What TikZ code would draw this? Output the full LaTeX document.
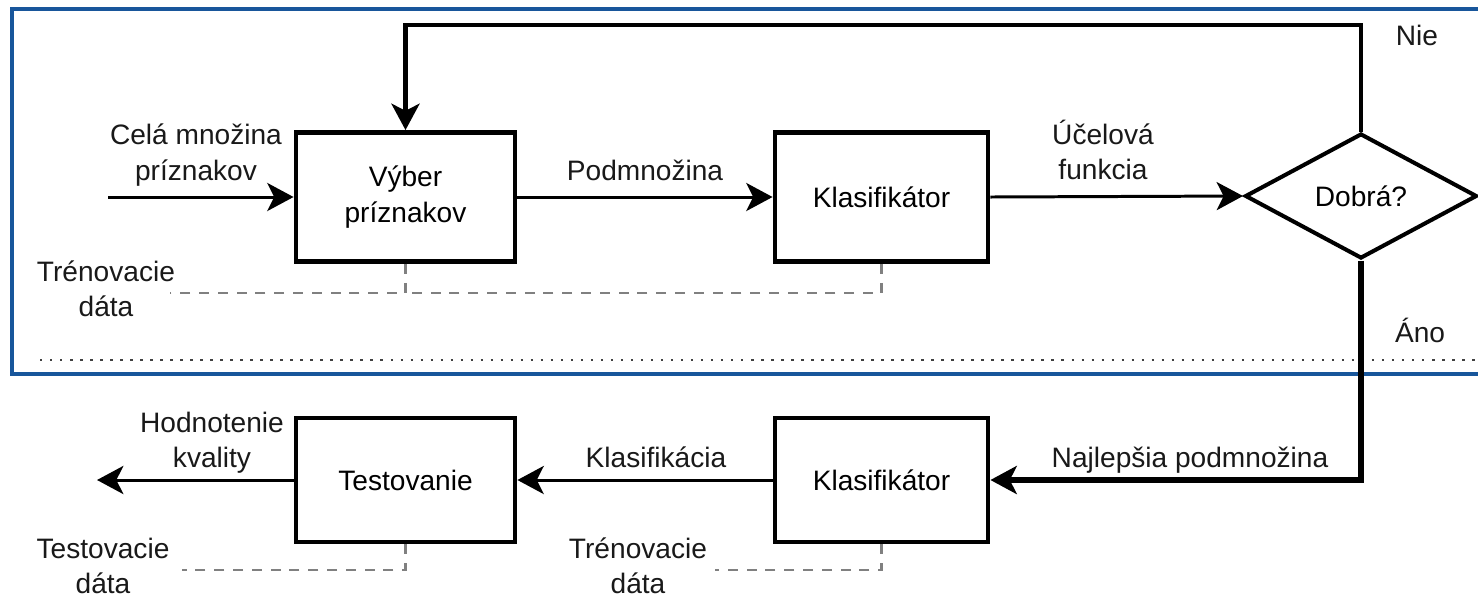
\documentclass[tikz,border=0pt]{standalone}
\usepackage{fontspec}
\setmainfont{Liberation Sans}
\usetikzlibrary{arrows.meta,shapes.geometric}

\definecolor{frameblue}{RGB}{24,86,155}

\begin{document}
\begin{tikzpicture}[
    x=0.02cm, y=-0.02cm,
    font=\fontsize{16}{20}\selectfont,
    block/.style={draw, line width=2.8pt, minimum width=4.26cm,
                  minimum height=2.58cm, inner sep=0pt, align=center},
    decision/.style={draw, diamond, line width=2.3pt, minimum width=4.64cm,
                     minimum height=2.5cm, inner sep=0pt},
    flow/.style={line width=1.7pt, -{Stealth[length=15pt, width=16pt, inset=4pt]}},
    loopline/.style={flow, line width=2.3pt},
    best/.style={flow, line width=3pt},
    traindata/.style={black!50, line width=1.2pt, dash pattern=on 5.7pt off 5pt},
    split/.style={black!75, line width=1.4pt, dash pattern=on 1.4pt off 4.3pt},
    frame/.style={frameblue, line width=2.3pt},
    lbl/.style={align=center, inner sep=0pt, text=black!90}
]

% ---------- frame ----------
\useasboundingbox (0,0) rectangle (1478,600);
\clip (0,0) rectangle (1478,600);
\draw[frame] (12,9) rectangle (1500,374);
\draw[split] (40,360) -- (1478,360);

% ---------- blocks ----------
\node[block, minimum width=4.38cm] (vyber) at (405.5,197) {Výber\\príznakov};
\node[block] (klas) at (881.5,197) {Klasifikátor};
\node[decision] (dobra) at (1361,196) {Dobrá?};
\node[block, minimum width=4.38cm, minimum height=2.48cm] (test) at (405.5,480) {Testovanie};
\node[block, minimum height=2.48cm] (klasb) at (881.5,480) {Klasifikátor};

% ---------- labels ----------
\node[lbl] (vstup) at (196,155) {Celá množina\\príznakov};
\node[lbl] (tren1) at (106,289) {Trénovacie\\dáta};
\node[lbl] (podm) at (645,170) {Podmnožina};
\node[lbl] (ucel) at (1103,150) {Účelová\\funkcia};
\node[lbl] (nie) at (1417,35) {Nie};
\node[lbl] (ano) at (1420,330) {Áno};
\node[lbl] (hodn) at (212,443) {Hodnotenie\\kvality};
\node[lbl] (klasif) at (656,457) {Klasifikácia};
\node[lbl] (najl) at (1190,460) {Najlepšia podmnožina};
\node[lbl] (testd) at (103,566) {Testovacie\\dáta};
\node[lbl] (tren2) at (638,566) {Trénovacie\\dáta};

% ---------- free ends ----------
\coordinate (in) at (108,197);
\coordinate (out) at (97,480);
\coordinate (loopR) at (1361,25);
\coordinate (loopL) at (405.5,25);
\coordinate (d1) at (170,293);
\coordinate (d2) at (182,570);
\coordinate (d3) at (715,570);

% ---------- selection loop ----------
\draw[flow] (in) -- (vyber.west);
\draw[flow] (vyber.east) -- (klas.west);
\draw[flow] (klas.east) -- (dobra.west);
\draw[loopline] (dobra.north) -- (loopR) -- (loopL) -- (vyber.north);

% ---------- evaluation ----------
\draw[best] (dobra.south) |- (klasb.east);
\draw[flow] (klasb.west) -- (test.west -| test.east);
\draw[flow] (test.west) -- (out);

% ---------- data ----------
\draw[traindata] (vyber.south) -- (vyber.south |- d1) -- (d1);
\draw[traindata] (klas.south) -- (klas.south |- d1) -- (vyber.south |- d1);
\draw[traindata] (test.south) |- (d2);
\draw[traindata] (klasb.south) |- (d3);

\end{tikzpicture}
\end{document}
